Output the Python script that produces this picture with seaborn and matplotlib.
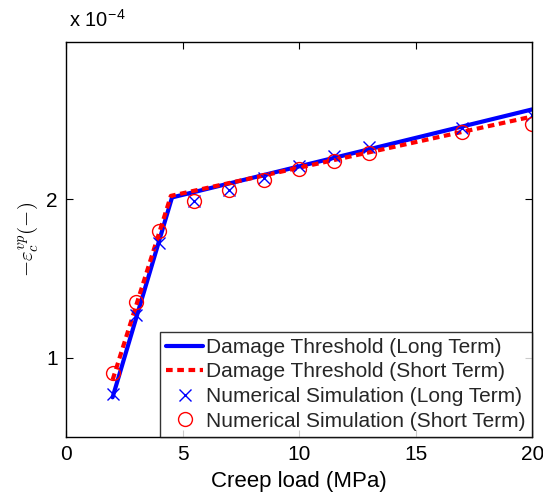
import numpy as np
import pandas as pd
import matplotlib
matplotlib.use("Agg")
import matplotlib.pyplot as plt
import seaborn as sns

# ------------------------------
# Data (values in units of 1e-4)
# ------------------------------
thr_load = [2.0, 4.55, 20.0]
thr_long = [0.75, 2.01, 2.565]
thr_load_short = [2.0, 4.5, 20.0]
thr_short = [0.86, 2.02, 2.52]

sim_load = [2, 3, 4, 5.5, 7, 8.5, 10, 11.5, 13, 17, 20]
sim_long = [0.77, 1.27, 1.725, 1.99, 2.06, 2.13, 2.21, 2.27, 2.33, 2.45, 2.53]
sim_short = [0.905, 1.35, 1.80, 1.99, 2.06, 2.12, 2.19, 2.24, 2.29, 2.42, 2.47]

# ------------------------------
# Plot
# ------------------------------
sns.set_theme(style="white")
plt.rcParams["font.family"] = ["Liberation Sans", "DejaVu Sans"]
plt.rcParams["mathtext.fontset"] = "cm"

fig = plt.figure(figsize=(5.43, 4.94), dpi=100)
ax = fig.add_axes([0.1215, 0.1154, 0.8585, 0.7996])

sns.lineplot(x=thr_load, y=thr_long, ax=ax, color="#0000ff", lw=3,
             label="Damage Threshold (Long Term)")
sns.lineplot(x=thr_load_short, y=thr_short, ax=ax, color="#ff0000", lw=3,
             linestyle=(0, (1.6, 1.1)), label="Damage Threshold (Short Term)")
sns.lineplot(x=sim_load, y=sim_long, ax=ax, color="#0000ff", linestyle="none",
             marker="x", markersize=9, mec="#0000ff", mew=1.0,
             label="Numerical Simulation (Long Term)")
sns.lineplot(x=sim_load, y=sim_short, ax=ax, color="#ff0000", linestyle="none",
             marker="o", markersize=10, mfc="none", mec="#ff0000", mew=1.0,
             label="Numerical Simulation (Short Term)")

ax.set_xlim(0, 20)
ax.set_ylim(0.5, 2.99)
ax.set_xticks([0, 5, 10, 15, 20])
ax.set_yticks([1, 2])
ax.tick_params(direction="in", length=5, width=0.8, top=True, right=True,
               bottom=True, left=True, labelsize=15, colors="black", pad=6)
for s in ax.spines.values():
    s.set_color("black")
    s.set_linewidth(1.0)

ax.set_xlabel("Creep load (MPa)", fontsize=16, color="black", labelpad=5)
ax.set_ylabel(r"$-\varepsilon_c^{vp}(-)$", fontsize=15, color="black", labelpad=4)
fig.text(0.127, 0.945, r"x 10$^{\mathregular{-4}}$", fontsize=14.5, color="black")

leg = ax.legend(loc="lower right", fontsize=15, frameon=True, fancybox=False,
                edgecolor="black", borderaxespad=0, borderpad=0.3,
                handlelength=1.8, handletextpad=0.15, labelspacing=0.27)
leg.get_frame().set_linewidth(1.0)

fig.savefig("out.png", dpi=100)
